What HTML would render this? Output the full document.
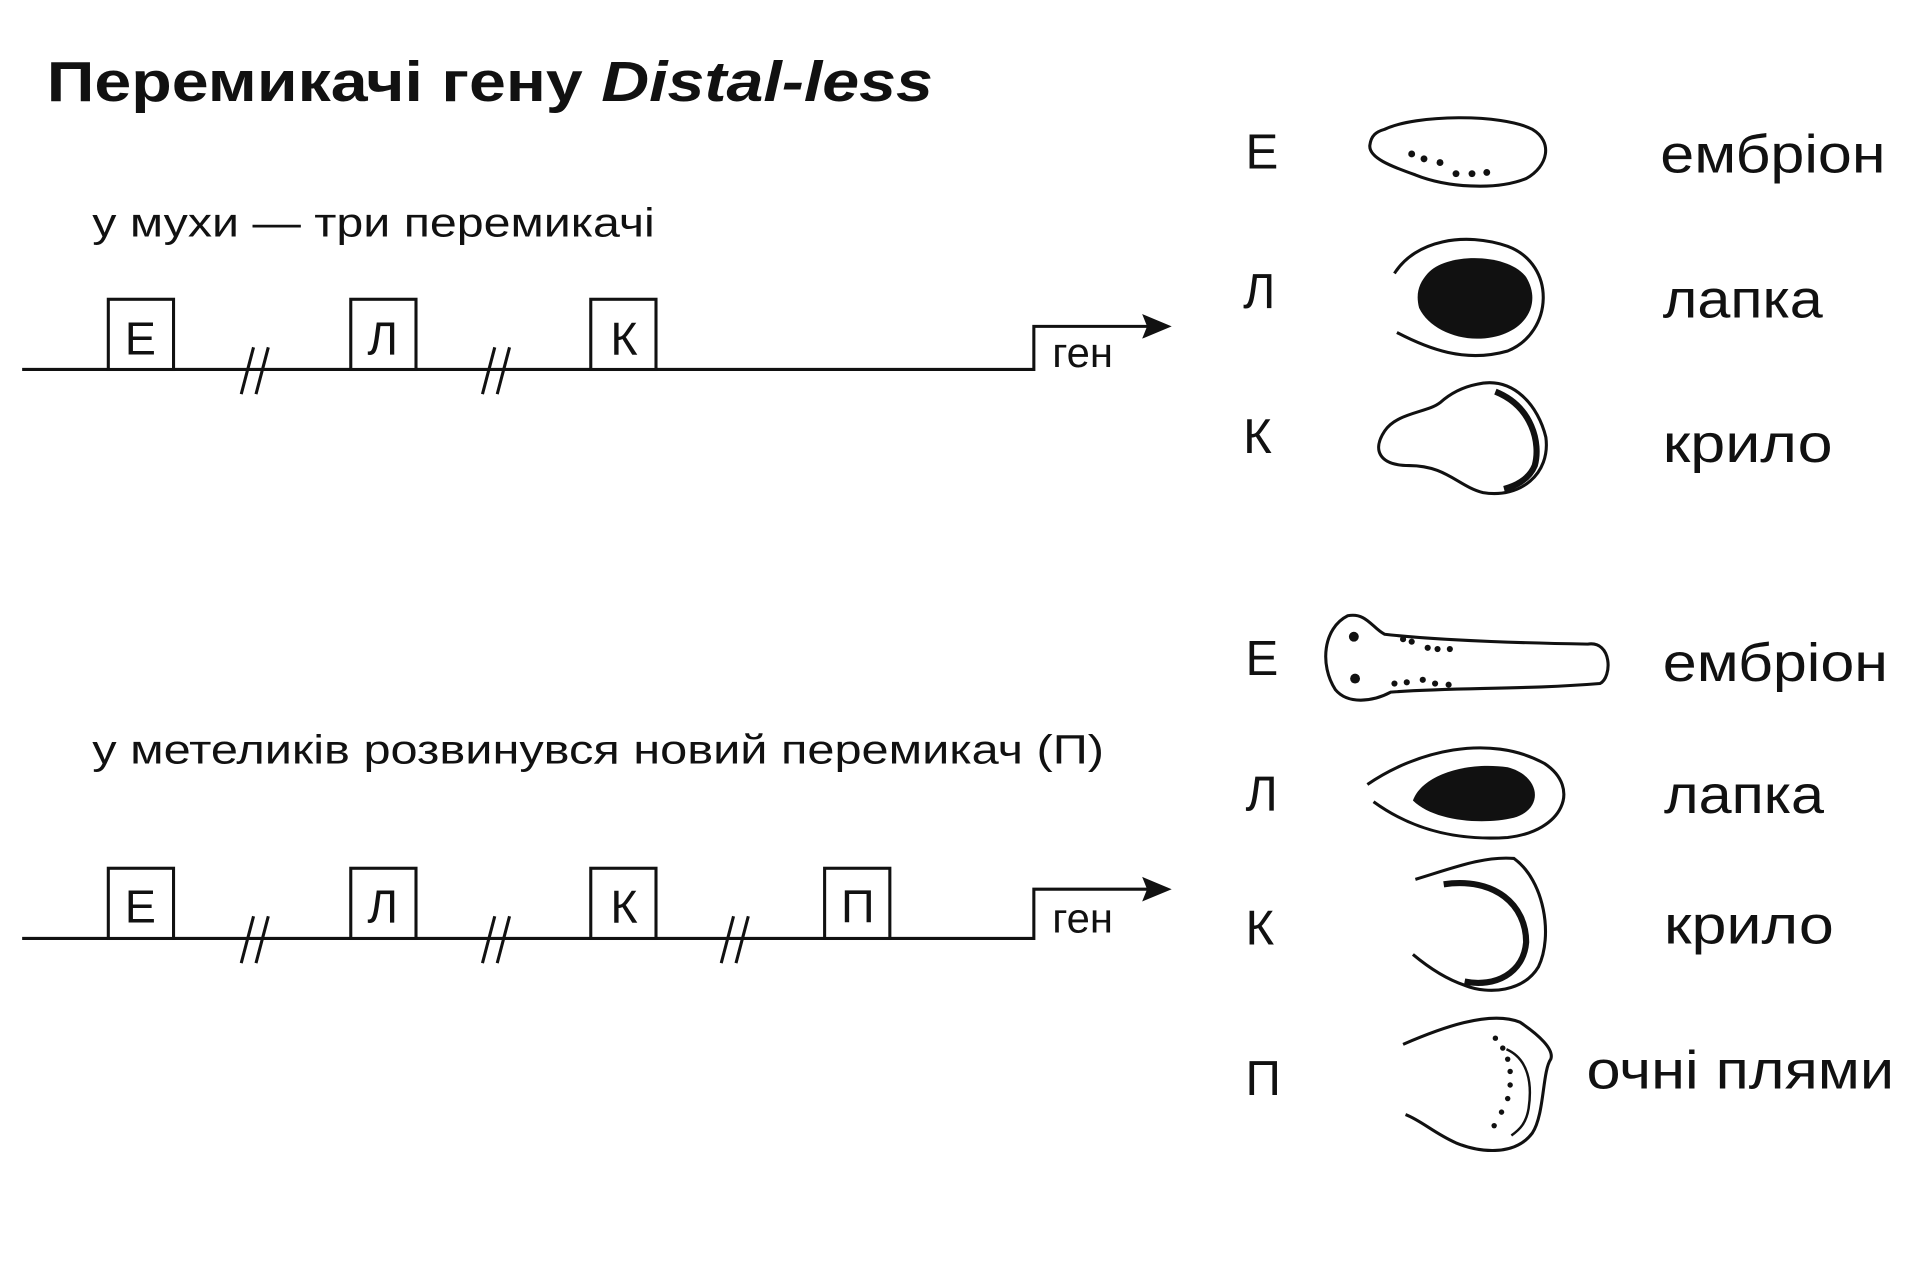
<!DOCTYPE html>
<html><head><meta charset="utf-8"><style>
html,body{margin:0;padding:0;background:#fff;}
svg{display:block;}
text{font-family:"Liberation Sans","DejaVu Sans",sans-serif;fill:#111;}
</style></head><body>
<svg width="1920" height="1287" viewBox="0 0 1560 1045" preserveAspectRatio="none" xmlns="http://www.w3.org/2000/svg">
<rect width="1560" height="1045" fill="#fff"/>
<text x="38" y="82" font-size="46" font-weight="bold" textLength="720" lengthAdjust="spacingAndGlyphs">Перемикачі гену <tspan font-style="italic">Distal-less</tspan></text>
<text x="75" y="192" font-size="33" textLength="457" lengthAdjust="spacingAndGlyphs">у мухи — три перемикачі</text>
<text x="75" y="620" font-size="33" textLength="822" lengthAdjust="spacingAndGlyphs">у метеликів розвинувся новий перемикач (П)</text>

<g stroke="#111" stroke-width="2.5" fill="none">
<polyline points="18,300 840,300 840,265 935,265"/>
<rect x="88" y="243" width="53" height="57" fill="#fff"/>
<rect x="285" y="243" width="53" height="57" fill="#fff"/>
<rect x="480" y="243" width="53" height="57" fill="#fff"/>
<line x1="196" y1="320" x2="206" y2="282"/><line x1="208" y1="320" x2="218" y2="282"/>
<line x1="392" y1="320" x2="402" y2="282"/><line x1="404" y1="320" x2="414" y2="282"/>
<polyline points="18,762 840,762 840,722 935,722"/>
<rect x="88" y="705" width="53" height="57" fill="#fff"/>
<rect x="285" y="705" width="53" height="57" fill="#fff"/>
<rect x="480" y="705" width="53" height="57" fill="#fff"/>
<rect x="670" y="705" width="53" height="57" fill="#fff"/>
<line x1="196" y1="782" x2="206" y2="744"/><line x1="208" y1="782" x2="218" y2="744"/>
<line x1="392" y1="782" x2="402" y2="744"/><line x1="404" y1="782" x2="414" y2="744"/>
<line x1="586" y1="782" x2="596" y2="744"/><line x1="598" y1="782" x2="608" y2="744"/>
</g>
<polygon points="952,265 928,255 932,265 928,275" fill="#111"/>
<polygon points="952,722 928,712 932,722 928,732" fill="#111"/>
<g font-size="38" text-anchor="middle">
<text x="114" y="288">Е</text><text x="311" y="288">Л</text><text x="507" y="288">К</text>
<text x="114" y="749">Е</text><text x="311" y="749">Л</text><text x="507" y="749">К</text><text x="697" y="749">П</text>
</g>
<g font-size="34">
<text x="855" y="298">ген</text><text x="855" y="757">ген</text>
</g>

<g font-size="40">
<text x="1012" y="137">Е</text><text x="1010" y="250">Л</text><text x="1010" y="368">К</text>
<text x="1012" y="548">Е</text><text x="1012" y="658">Л</text><text x="1012" y="767">К</text><text x="1012" y="889">П</text>
</g>
<g font-size="44">
<text x="1349" y="140" textLength="183" lengthAdjust="spacingAndGlyphs">ембріон</text>
<text x="1351" y="258" textLength="130" lengthAdjust="spacingAndGlyphs">лапка</text>
<text x="1351" y="375" textLength="138" lengthAdjust="spacingAndGlyphs">крило</text>
<text x="1351" y="553" textLength="183" lengthAdjust="spacingAndGlyphs">ембріон</text>
<text x="1352" y="660" textLength="130" lengthAdjust="spacingAndGlyphs">лапка</text>
<text x="1352" y="766" textLength="138" lengthAdjust="spacingAndGlyphs">крило</text>
<text x="1289" y="884" textLength="250" lengthAdjust="spacingAndGlyphs">очні плями</text>
</g>

<g stroke="#111" stroke-width="2.5" fill="none">
<path d="M1125,105 C1150,93 1220,92 1245,105 C1262,115 1258,135 1240,145 C1215,155 1175,152 1150,142 C1130,135 1112,128 1113,118 C1114,110 1118,107 1125,105 Z"/>
<path d="M1133,222 C1150,195 1190,188 1225,200 C1265,215 1262,270 1225,285 C1190,295 1160,283 1135,270"/>
<path d="M1200,312 C1230,305 1250,330 1256,355 C1260,385 1235,405 1205,400 C1185,395 1175,378 1145,378 C1120,378 1115,365 1125,350 C1135,335 1160,335 1170,327 C1180,318 1190,314 1200,312 Z"/>
<path d="M1215,318 C1245,330 1252,360 1247,378 C1242,390 1230,395 1222,397" stroke-width="5"/>
<path d="M1095,500 C1110,497 1115,510 1125,515 C1170,520 1230,522 1290,523 C1310,520 1310,550 1300,555 C1240,560 1180,558 1130,562 C1115,570 1095,572 1085,560 C1072,540 1075,510 1095,500 Z"/>
<path d="M1111,637 C1150,610 1210,595 1255,620 C1285,640 1270,675 1225,680 C1180,683 1145,672 1116,651"/>
<path d="M1150,714 C1180,705 1205,695 1230,697 C1255,715 1262,760 1250,785 C1238,805 1210,808 1190,800 C1175,795 1160,785 1148,775"/>
<path d="M1173,718 C1215,712 1240,735 1240,765 C1238,790 1215,802 1190,797" stroke-width="5"/>
<path d="M1140,848 C1170,835 1210,820 1235,830 C1250,840 1263,852 1260,860 C1253,870 1255,905 1245,920 C1230,940 1200,935 1183,928 C1165,920 1155,910 1142,905"/>
<path d="M1224,852 C1242,860 1245,880 1242,900 C1240,912 1235,917 1228,922" stroke-width="2"/>
</g>
<g fill="#111">
<circle cx="1147" cy="125" r="2.8"/><circle cx="1157" cy="129" r="2.8"/><circle cx="1170" cy="132" r="2.8"/>
<circle cx="1183" cy="141" r="2.8"/><circle cx="1196" cy="141" r="2.8"/><circle cx="1208" cy="140" r="2.8"/>
<path d="M1160,222 C1175,205 1225,205 1240,225 C1255,250 1235,275 1200,275 C1180,275 1160,265 1153,250 C1150,238 1153,230 1160,222 Z"/>
<path d="M1148,650 C1155,630 1190,618 1225,623 C1252,630 1255,657 1230,664 C1205,670 1165,667 1148,650 Z"/>
<circle cx="1100" cy="517" r="4"/><circle cx="1101" cy="551" r="4"/>
<circle cx="1140" cy="519" r="2.5"/><circle cx="1147" cy="521" r="2.5"/><circle cx="1160" cy="526" r="2.5"/><circle cx="1168" cy="527" r="2.5"/><circle cx="1178" cy="527" r="2.5"/>
<circle cx="1133" cy="555" r="2.5"/><circle cx="1143" cy="554" r="2.5"/><circle cx="1156" cy="552" r="2.5"/><circle cx="1166" cy="555" r="2.5"/><circle cx="1177" cy="556" r="2.5"/>
<circle cx="1215" cy="843" r="2.2"/><circle cx="1221" cy="851" r="2.2"/><circle cx="1225" cy="860" r="2.2"/><circle cx="1227" cy="870" r="2.2"/>
<circle cx="1227" cy="881" r="2.2"/><circle cx="1225" cy="892" r="2.2"/><circle cx="1220" cy="903" r="2.2"/><circle cx="1214" cy="914" r="2.2"/>
</g>
</svg>
</body></html>
